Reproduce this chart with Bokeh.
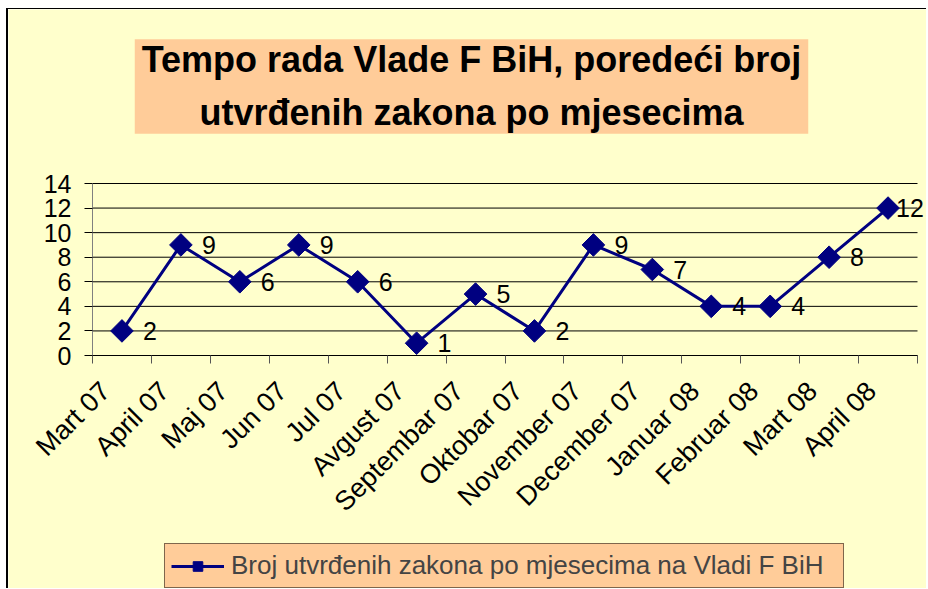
import math
from bokeh.plotting import figure
from bokeh.models import (Range1d, FixedTicker, LabelSet, Label, ColumnDataSource,
                          Legend, LegendItem)
from bokeh.core.properties import value
from bokeh.embed import file_html
from bokeh.resources import INLINE

months = ["Mart 07", "April 07", "Maj 07", "Jun 07", "Jul 07", "Avgust 07",
          "Septembar 07", "Oktobar 07", "November 07", "December 07",
          "Januar 08", "Februar 08", "Mart 08", "April 08"]
values = [2, 9, 6, 9, 6, 1, 5, 2, 9, 7, 4, 4, 8, 12]
y_ticks = [0, 2, 4, 6, 8, 10, 12, 14]
title_text = "Tempo rada Vlade F BiH, poredeći broj\nutvrđenih zakona po mjesecima"
series_name = "Broj utvrđenih zakona po mjesecima na Vladi F BiH"

FONT = "Liberation Sans"
BG = "#FFFFCC"
PEACH = "#FFCC99"
NAVY = "#000080"

# canvas and plot-area geometry (pixels inside the canvas)
W, H = 920, 580
AX_LEFT, AX_TOP, AX_BOTTOM = 84, 174, 346   # where x=0, y=14, y=0 fall
PLOT_W = 825                                # pixel width of the categories
n = len(months)
ymax = y_ticks[-1]
ux = PLOT_W / n
uy = (AX_BOTTOM - AX_TOP) / ymax

xs = [i + 0.5 for i in range(n)]
dx = [21] * n
dx[-1] = 8
src = ColumnDataSource(dict(x=xs, y=values, lbl=[str(v) for v in values], dx=dx))
grid_src = ColumnDataSource(dict(y=y_ticks, x0=[0] * len(y_ticks), x1=[n] * len(y_ticks)))

p = figure(width=W, height=H, output_backend="svg", toolbar_location=None,
           x_range=Range1d(-AX_LEFT / ux, (W - AX_LEFT) / ux),
           y_range=Range1d(-(H - AX_BOTTOM) / uy, ymax + AX_TOP / uy),
           min_border=0)
p.styles = {"margin-left": "6px", "margin-top": "8px",
            "border-left": "2px solid #000000", "border-top": "1px solid #000000"}
p.background_fill_color = BG
p.border_fill_color = BG
p.outline_line_color = None
p.xgrid.grid_line_color = None
p.ygrid.grid_line_color = None

# grid lines across the category area
p.segment("x0", "y", "x1", "y", source=grid_src, line_color="#000000", line_width=1)

# y axis
p.yaxis.fixed_location = 0
p.yaxis.bounds = (0, ymax)
p.yaxis.ticker = FixedTicker(ticks=y_ticks)
p.yaxis.axis_line_color = "#808080"
p.yaxis.major_tick_line_color = "#000000"
p.yaxis.major_tick_out = 8
p.yaxis.major_tick_in = 0
p.yaxis.minor_tick_line_color = None
p.yaxis.major_label_standoff = 13
p.yaxis.major_label_text_font = FONT
p.yaxis.major_label_text_font_size = "25px"
p.yaxis.major_label_text_color = "#000000"

# x axis: labels near category centers, tick marks at boundaries
lab_pos = [i + 0.22 for i in range(n)]
p.xaxis.fixed_location = 0
p.xaxis.bounds = (0, n)
p.xaxis.ticker = FixedTicker(ticks=lab_pos, minor_ticks=list(range(n + 1)))
p.xaxis.major_label_overrides = {x: m for x, m in zip(lab_pos, months)}
p.xaxis.major_tick_line_color = None
p.xaxis.major_tick_out = 8
p.xaxis.major_tick_in = 0
p.xaxis.minor_tick_line_color = "#555555"
p.xaxis.minor_tick_out = 8
p.xaxis.minor_tick_in = 0
p.xaxis.axis_line_color = "#000000"
p.xaxis.major_label_orientation = math.pi / 4
p.xaxis.major_label_standoff = 23
p.xaxis.major_label_text_font = FONT
p.xaxis.major_label_text_font_size = "27px"
p.xaxis.major_label_text_color = "#000000"

# series
ln = p.line("x", "y", source=src, line_color=NAVY, line_width=3)
mk = p.scatter("x", "y", source=src, marker="square", size=16, angle=math.pi / 4,
               fill_color=NAVY, line_color=NAVY)

labels = LabelSet(x="x", y="y", text="lbl", source=src, x_offset="dx",
                  text_baseline="middle", text_align="left",
                  text_font=value(FONT), text_font_size="25px", text_color="#000000")
p.add_layout(labels)

# title box
title = Label(x=463, y=H - 77, x_units="screen", y_units="screen", text=title_text,
              text_align="center", text_baseline="middle", text_font=FONT,
              text_font_size="36px", text_font_style="bold", text_color="#000000",
              text_line_height=1.28, background_fill_color=PEACH,
              padding=dict(left=7, right=7, top=0, bottom=1))
p.add_layout(title)

legend = Legend(items=[LegendItem(label=series_name, renderers=[ln, mk])],
                location=(156, 1), orientation="horizontal",
                background_fill_color=PEACH, background_fill_alpha=1,
                border_line_color="#000000", border_line_width=1,
                label_text_font=FONT, label_text_font_size="26px",
                glyph_width=53, glyph_height=24, label_standoff=7,
                label_width=606, padding=6, margin=0, spacing=0)
p.add_layout(legend)

open("out.html", "w").write(file_html(p, INLINE))
